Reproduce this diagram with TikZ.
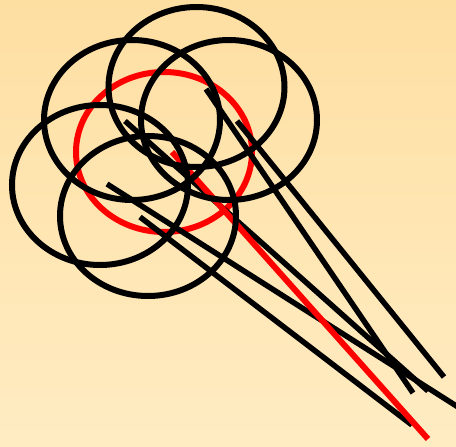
\documentclass[tikz,border=0pt]{standalone}
\usetikzlibrary{calc}

\definecolor{bgtop}{RGB}{254,223,162}
\definecolor{bgbot}{RGB}{255,236,195}
\definecolor{glassred}{RGB}{255,0,0}

\begin{document}
\begin{tikzpicture}[
    x=1pt, y=-1pt,
    rim/.style={draw=black, line width=6pt},
    handle/.style={draw=black, line width=5.5pt},
    redrim/.style={draw=glassred, line width=6pt},
    redhandle/.style={draw=glassred, line width=6pt},
]

% === BACKGROUND ===
\shade[top color=bgtop, bottom color=bgbot] (0,0) rectangle (456,447);
\useasboundingbox (0,0) rectangle (456,447);
\clip (0,0) rectangle (456,447);

% === LENS CENTRES ===
\coordinate (ctop)   at (196.5,87);
\coordinate (cleft)  at (132,120);
\coordinate (cright) at (229,120);
\coordinate (clow)   at (100,185);
\coordinate (cbot)   at (148,216);
\coordinate (cred)   at (164,152);

% === RED RIM (under everything) ===
\draw[redrim] (cred) ellipse [x radius=88, y radius=80];

% === BLACK HANDLES ===
\draw[handle] (140,217) coordinate (hbot) -- (412,425) coordinate (ebot);
\draw[handle] (107,184) coordinate (hlow) -- (458,407) coordinate (elow);
\draw[handle] (125,121) coordinate (hleft) -- (428,391) coordinate (eleft);
\draw[handle] (206,89) coordinate (htop) -- (413,393) coordinate (etop);
\draw[handle] (237,121) coordinate (hright) -- (444,377) coordinate (eright);

% === RED HANDLE ===
\draw[redhandle] (172,152) coordinate (hred) -- (428,439) coordinate (ered);

% === BLACK RIMS ===
\foreach \c in {cbot, clow, cleft, ctop, cright}
    \draw[rim] (\c) ellipse [x radius=88, y radius=80];

\end{tikzpicture}
\end{document}
